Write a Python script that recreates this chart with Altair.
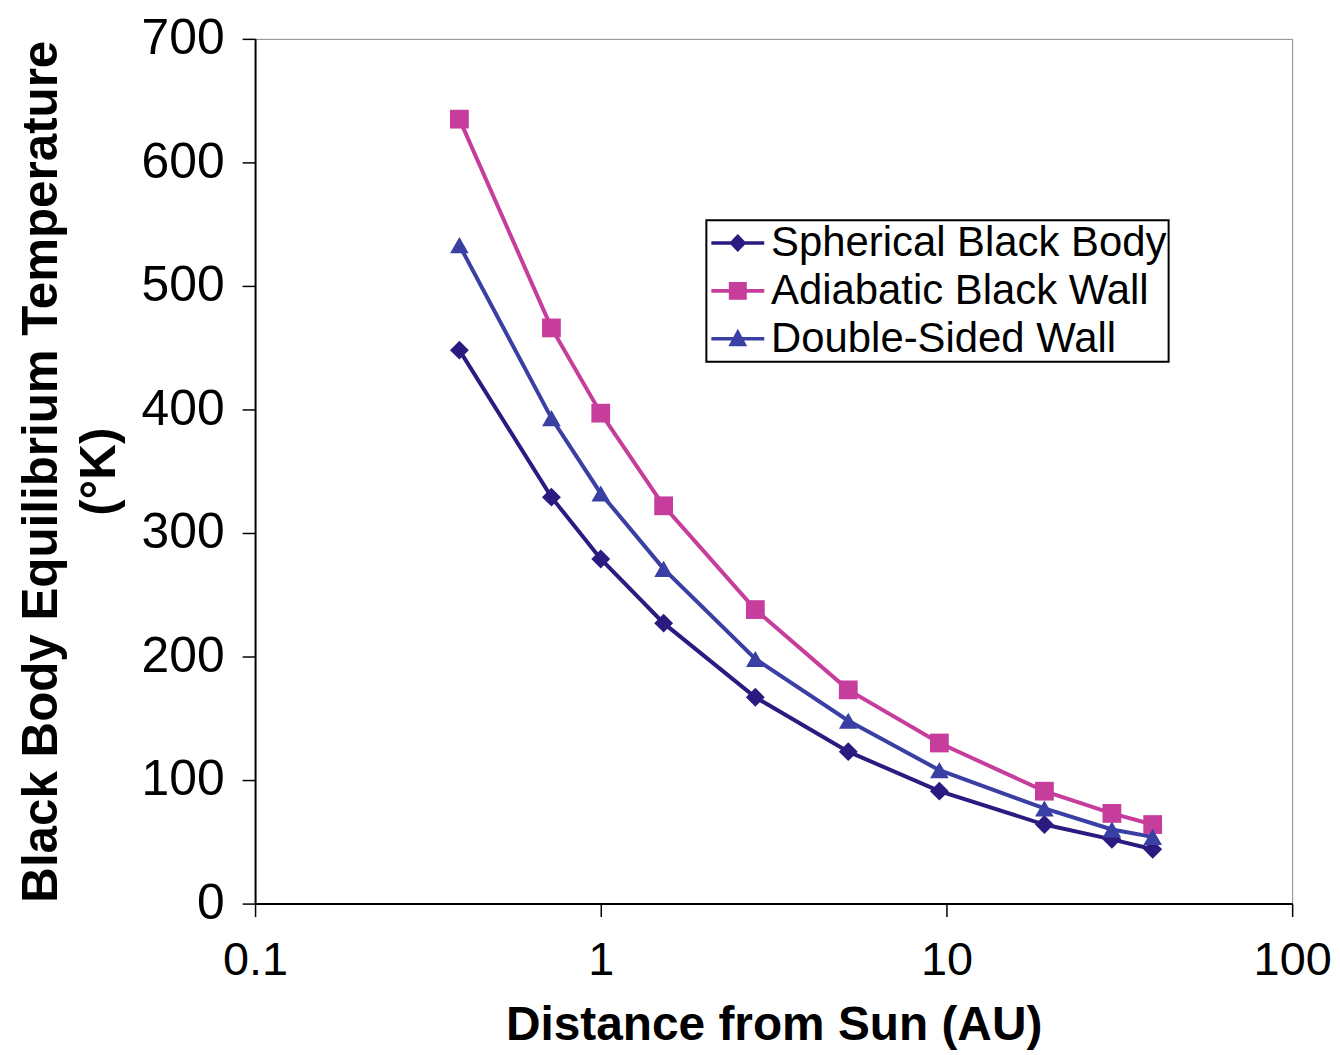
import altair as alt
import pandas as pd

# ---- data ----
distance_au = [0.39, 0.72, 1.0, 1.52, 2.8, 5.2, 9.54, 19.2, 30.1, 39.5]
spherical = [448, 329, 279, 227, 167, 123, 91, 64, 52, 44]
adiabatic = [635, 466, 397, 322, 238, 173, 130, 91, 73, 64]
double_sided = [533, 393, 332, 271, 198, 148, 108, 77, 60, 54]

series_names = ["Spherical Black Body", "Adiabatic Black Wall", "Double-Sided Wall"]
series_colors = ["#2B1A80", "#C63D9B", "#3A3FA3"]
x_ticks = [0.1, 1, 10, 100]
y_ticks = [0, 100, 200, 300, 400, 500, 600, 700]

rows = []
for name, vals in zip(series_names, [spherical, adiabatic, double_sided]):
    for d, t in zip(distance_au, vals):
        rows.append({"distance": d, "temp": t, "series": name})
df = pd.DataFrame(rows)

# legend symbols: a line with the marker on it (custom paths)
legend_paths = [
    "M-1.2,-0.12H2.34V0.12H-1.2Z M0.57,-0.6L1.15,0L0.57,0.6L-0.01,0Z",
    "M-1.2,-0.12H2.34V0.12H-1.2Z M-0.03,-0.6H1.17V0.6H-0.03Z",
    "M-1.2,-0.12H2.34V0.12H-1.2Z M0.57,-0.66L1.2,0.5H-0.06Z",
]

x_enc = alt.X(
    "distance:Q",
    scale=alt.Scale(type="log", domain=[0.1, 100], nice=False),
    axis=alt.Axis(
        values=x_ticks, format="~g", title="Distance from Sun (AU)",
        grid=False, tickSize=13, labelPadding=21, labelFontSize=47,
        titleFontSize=48, titleFontWeight="bold", titleY=98,
        domainColor="black", domainWidth=2, tickColor="black", tickWidth=1.5,
        labelColor="black", titleColor="black", labelFlush=False,
    ),
)
y_enc = alt.Y(
    "temp:Q",
    scale=alt.Scale(domain=[0, 700], nice=False),
    axis=alt.Axis(
        values=y_ticks, title=["Black Body Equilibrium Temperature", "(°K)"],
        grid=False, tickSize=13, labelPadding=18, labelFontSize=50,
        titleFontSize=49.5, titleFontWeight="bold", titleLineHeight=58,
        titleX=-189, titleY=434, titleAngle=-90, titleBaseline="bottom",
        domainColor="black", domainWidth=2, tickColor="black", tickWidth=1.5,
        labelColor="black", titleColor="black",
    ),
)

color_scale = alt.Scale(domain=series_names, range=series_colors)

lines = alt.Chart(df).mark_line(strokeWidth=4).encode(
    x=x_enc, y=y_enc,
    color=alt.Color("series:N", scale=color_scale, legend=None),
    detail="series:N",
)

points = alt.Chart(df).mark_point(filled=True, opacity=1, strokeWidth=0).encode(
    x=x_enc, y=y_enc,
    color=alt.Color("series:N", scale=color_scale, legend=None),
    shape=alt.Shape("series:N",
                    scale=alt.Scale(domain=series_names,
                                    range=["diamond", "square", "triangle-up"]),
                    legend=None),
    size=alt.Size("series:N",
                  scale=alt.Scale(domain=series_names, range=[360, 350, 420]),
                  legend=None),
)

legend_layer = alt.Chart(df).transform_filter(alt.datum.temp < 0).mark_point(
    filled=True, opacity=1
).encode(
    x=x_enc, y=y_enc,
    color=alt.Color("series:N", scale=color_scale,
                    legend=alt.Legend(title=None)),
    shape=alt.Shape("series:N",
                    scale=alt.Scale(domain=series_names, range=legend_paths),
                    legend=alt.Legend(title=None,
                                      labelExpr="datum.label + '\u2009\u200a'")),
)

chart = alt.layer(lines, points, legend_layer).resolve_scale(
    color="independent", shape="independent", size="independent"
).properties(
    width=1041, height=868,
    autosize=alt.AutoSizeParams(type="none"),
    padding={"left": 248, "top": 29, "right": 40, "bottom": 146},
    background="white",
).configure_view(
    stroke="#888888", strokeWidth=1
).configure_axis(
    labelFont="Liberation Sans", titleFont="Liberation Sans",
).configure_legend(
    orient="none", legendX=453, legendY=182,
    strokeColor="black", strokeWidth=2, fillColor="white",
    padding=2, rowPadding=6, symbolSize=900, symbolStrokeWidth=0,
    labelFont="Liberation Sans", labelFontSize=42, labelColor="black",
    labelOffset=21, labelLimit=600, symbolOpacity=1,
)

chart.save("out.html", embed_options={"renderer": "svg", "actions": False})
